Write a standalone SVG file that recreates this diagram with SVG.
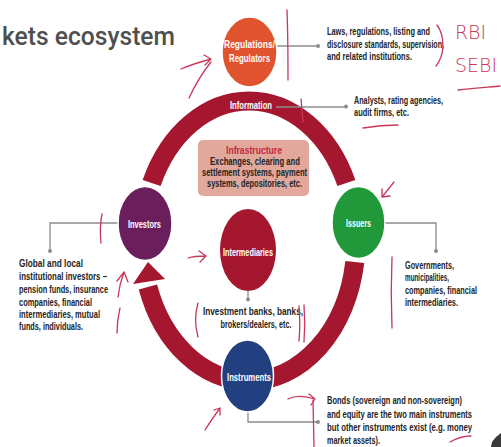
<svg xmlns="http://www.w3.org/2000/svg" width="501" height="447" viewBox="0 0 501 447">
  <style>
    .lbl { font-family: 'Liberation Sans Narrow', 'Liberation Sans', Arial, sans-serif; font-weight: bold; font-size: 10px; fill: #ffffff; text-anchor: middle; }
    .desc { font-family: 'Liberation Sans Narrow', 'Liberation Sans', Arial, sans-serif; font-weight: bold; font-size: 10.5px; fill: #242424; }
    .conn { stroke: #8c8c8c; stroke-width: 1.3; fill: none; }
    .dot { fill: #8c8c8c; }
    .band { stroke: #a5172f; stroke-width: 19; fill: none; }
    .node { stroke: #ffffff; stroke-width: 1.5; }
    .ink { stroke: #c9385a; stroke-width: 1.3; fill: none; stroke-linecap: round; stroke-linejoin: round; }
    .inktext { font-family: 'DejaVu Sans', 'Liberation Sans', sans-serif; font-weight: 200; font-size: 19px; fill: #c9385a; }
  </style>

  <rect width="501" height="447" fill="#ffffff"/>

  <!-- title -->
  <text x="2" y="45" font-family="Roboto, 'Liberation Sans', Arial, sans-serif" font-weight="500" font-size="26" fill="#4f4f4f" textLength="173" lengthAdjust="spacingAndGlyphs">kets ecosystem</text>

  <!-- cycle ring -->
  <g id="ring">
    <path class="band" d="M151.6,183 A107,140 0 0 1 346.4,183"/>
    <path class="band" d="M354.8,262 A107,140 0 0 1 249,381"/>
    <path class="band" d="M249,381 A107,140 0 0 1 147.9,287"/>
    <polygon points="148,262 133,284 165,279" fill="#a5172f"/>
    <text class="lbl" x="251" y="108.5" textLength="42" lengthAdjust="spacingAndGlyphs">Information</text>
  </g>

  <!-- connectors -->
  <g id="connectors">
    <path class="conn" d="M277,46 H318"/>
    <circle class="dot" cx="318" cy="46" r="2"/>
    <path class="conn" d="M276,107 H346"/>
    <circle class="dot" cx="346" cy="106.5" r="2"/>
    <path class="conn" d="M118,223 H50 V251"/>
    <circle class="dot" cx="50" cy="251" r="2"/>
    <path class="conn" d="M385,223 H436 V251"/>
    <circle class="dot" cx="436" cy="251" r="2"/>
    <path class="conn" d="M248,291 V299"/>
    <circle class="dot" cx="248" cy="299.5" r="2"/>
    <path class="conn" d="M248,412 V422 H318"/>
    <circle class="dot" cx="318" cy="422" r="2"/>
  </g>

  <!-- infrastructure -->
  <g id="infrastructure">
    <rect x="198" y="140" width="111" height="56" rx="5" fill="#e2a89b"/>
    <text class="desc" x="254" y="153.5" text-anchor="middle" style="fill:#c0283d" textLength="56" lengthAdjust="spacingAndGlyphs">Infrastructure</text>
    <text class="desc" x="255" y="164.5" text-anchor="middle" textLength="90" lengthAdjust="spacingAndGlyphs">Exchanges, clearing and</text>
    <text class="desc" x="254.5" y="176" text-anchor="middle" textLength="105" lengthAdjust="spacingAndGlyphs">settlement systems, payment</text>
    <text class="desc" x="254.5" y="187" text-anchor="middle" textLength="95" lengthAdjust="spacingAndGlyphs">systems, depositories, etc.</text>
  </g>

  <!-- regulators -->
  <g id="regulators">
    <ellipse class="node" cx="249.5" cy="52" rx="27.5" ry="35" fill="#e0532e"/>
    <text class="lbl" x="249.5" y="47.5" textLength="51" lengthAdjust="spacingAndGlyphs">Regulations/</text>
    <text class="lbl" x="249.5" y="61.5" textLength="41" lengthAdjust="spacingAndGlyphs">Regulators</text>
    <text class="desc" x="327" y="35" textLength="103" lengthAdjust="spacingAndGlyphs">Laws, regulations, listing and</text>
    <text class="desc" x="327" y="47.5" textLength="117" lengthAdjust="spacingAndGlyphs">disclosure standards, supervision,</text>
    <text class="desc" x="327" y="60" textLength="85" lengthAdjust="spacingAndGlyphs">and related institutions.</text>
  </g>

  <!-- information providers -->
  <g id="information">
    <text class="desc" x="354" y="103.5" textLength="89" lengthAdjust="spacingAndGlyphs">Analysts, rating agencies,</text>
    <text class="desc" x="354" y="115.8" textLength="55" lengthAdjust="spacingAndGlyphs">audit firms, etc.</text>
  </g>

  <!-- investors -->
  <g id="investors">
    <ellipse class="node" cx="145" cy="223.5" rx="27" ry="37" fill="#6a1f5c"/>
    <text class="lbl" x="144.5" y="227.5" textLength="33" lengthAdjust="spacingAndGlyphs">Investors</text>
    <text class="desc" x="19" y="266.8" textLength="64" lengthAdjust="spacingAndGlyphs">Global and local</text>
    <text class="desc" x="19" y="280.2" textLength="88" lengthAdjust="spacingAndGlyphs">institutional investors –</text>
    <text class="desc" x="19" y="292.8" textLength="89" lengthAdjust="spacingAndGlyphs">pension funds, insurance</text>
    <text class="desc" x="19" y="305.5" textLength="73" lengthAdjust="spacingAndGlyphs">companies, financial</text>
    <text class="desc" x="19" y="317.8" textLength="81" lengthAdjust="spacingAndGlyphs">intermediaries, mutual</text>
    <text class="desc" x="19" y="330.2" textLength="64" lengthAdjust="spacingAndGlyphs">funds, individuals.</text>
  </g>

  <!-- issuers -->
  <g id="issuers">
    <ellipse class="node" cx="358.5" cy="222.5" rx="26.5" ry="36" fill="#21993b"/>
    <text class="lbl" x="358.5" y="226.5" textLength="25" lengthAdjust="spacingAndGlyphs">Issuers</text>
    <text class="desc" x="405" y="268.5" textLength="49" lengthAdjust="spacingAndGlyphs">Governments,</text>
    <text class="desc" x="405" y="280.8" textLength="44" lengthAdjust="spacingAndGlyphs">municipalities,</text>
    <text class="desc" x="405" y="293.5" textLength="72" lengthAdjust="spacingAndGlyphs">companies, financial</text>
    <text class="desc" x="405" y="305.8" textLength="53" lengthAdjust="spacingAndGlyphs">intermediaries.</text>
  </g>

  <!-- intermediaries -->
  <g id="intermediaries">
    <ellipse cx="248" cy="250" rx="28" ry="41" fill="#a5172f"/>
    <text class="lbl" x="248" y="255.5" textLength="50" lengthAdjust="spacingAndGlyphs">Intermediaries</text>
    <text class="desc" x="253" y="315.2" text-anchor="middle" textLength="100" lengthAdjust="spacingAndGlyphs">Investment banks, banks,</text>
    <text class="desc" x="256" y="327.5" text-anchor="middle" textLength="71" lengthAdjust="spacingAndGlyphs">brokers/dealers, etc.</text>
  </g>

  <!-- instruments -->
  <g id="instruments">
    <ellipse class="node" cx="247.5" cy="376" rx="26" ry="36" fill="#223f80"/>
    <text class="lbl" x="249" y="380.5" textLength="44" lengthAdjust="spacingAndGlyphs">Instruments</text>
    <text class="desc" x="327" y="403.5" textLength="135" lengthAdjust="spacingAndGlyphs">Bonds (sovereign and non-sovereign)</text>
    <text class="desc" x="327" y="417.5" textLength="145" lengthAdjust="spacingAndGlyphs">and equity are the two main instruments</text>
    <text class="desc" x="327" y="430.8" textLength="145" lengthAdjust="spacingAndGlyphs">but other instruments exist (e.g. money</text>
    <text class="desc" x="327" y="444.2" textLength="53" lengthAdjust="spacingAndGlyphs">market assets).</text>
  </g>

  <!-- pen annotations -->
  <g id="annotations">
    <path class="ink" d="M181,69 C190,65 200,62 211,59 M204,55 L211,59 L205,65"/>
    <path class="ink" d="M189,98 C195,85 203,72 211,62"/>
    <path class="ink" d="M287,10 C288,35 288,58 288,80"/>
    <path class="ink" d="M437,25 C445,36 445,55 436,66"/>
    <text class="inktext" x="455" y="39" textLength="31" lengthAdjust="spacingAndGlyphs">RBI</text>
    <text class="inktext" x="455" y="72" textLength="42" lengthAdjust="spacingAndGlyphs">SEBI</text>
    <path class="ink" d="M458,90 C475,88 490,87 500,86"/>
    <path class="ink" d="M301,99 L303,122"/>
    <path class="ink" d="M363,128 C375,126 388,125 398,125"/>
    <path class="ink" d="M394,182 L382,197 M382,189 L382,197 L390,196"/>
    <path class="ink" d="M188,258 C194,256 200,256 206,256 M199,251 L206,256 L200,262"/>
    <path class="ink" d="M102,214 C100,224 100,234 101,243"/>
    <path class="ink" d="M118,297 C119,288 121,280 124,272 M117,281 L124,272 L128,282"/>
    <path class="ink" d="M120,308 C118,316 117,324 117,333"/>
    <path class="ink" d="M198,303 C195,313 195,326 198,337"/>
    <path class="ink" d="M299,306 C300,318 300,330 299,341 M304,305 C305,318 305,330 304,342"/>
    <path class="ink" d="M392,257 C391,280 391,305 392,328"/>
    <path class="ink" d="M205,430 C210,422 215,415 220,408 M214,410 L220,408 L220,415"/>
    <path class="ink" d="M288,399 C296,395 305,396 315,399 M309,394 L315,399 L311,405"/>
    <path class="ink" d="M313,400 L314,447"/>
    <path class="ink" d="M450,442 C457,438 463,436 471,436"/>
    <path d="M501,433 L496,437 L492,442 L491,447 L501,447 Z" fill="#3a3a3a"/>
  </g>
</svg>
